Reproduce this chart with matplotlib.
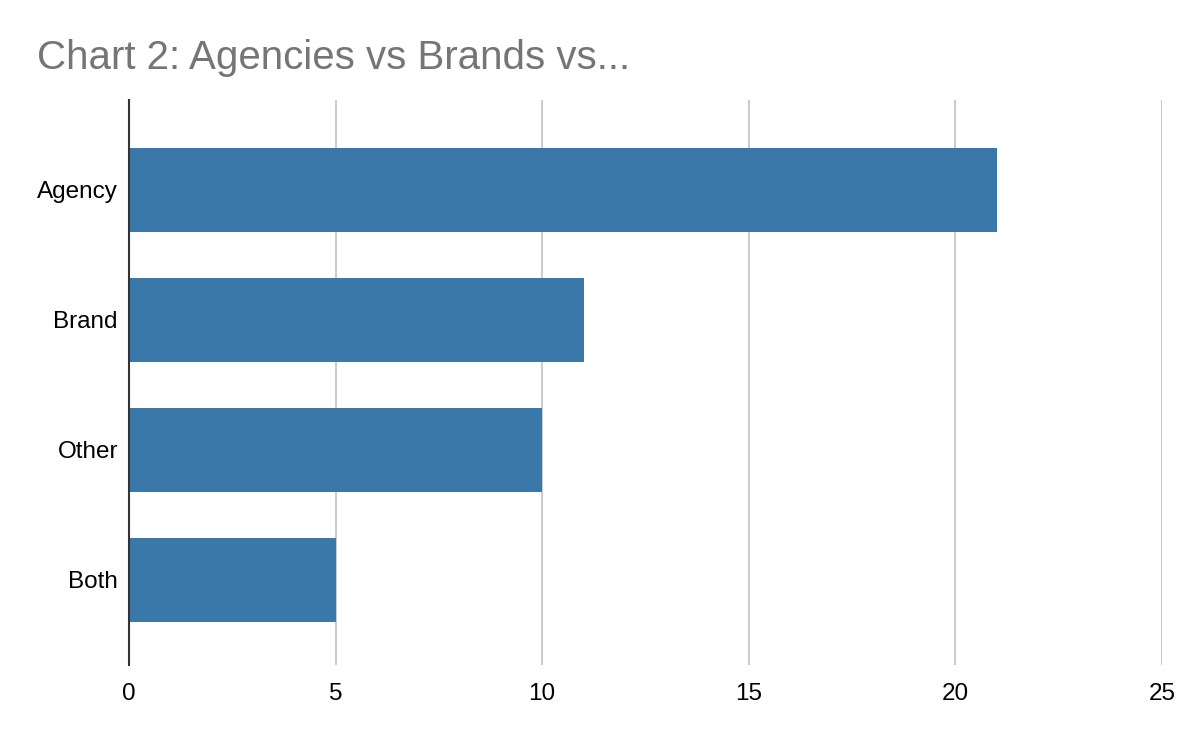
import matplotlib.pyplot as plt

categories = ["Agency", "Brand", "Other", "Both"]
values = [21, 11, 10, 5]
xticks = [0, 5, 10, 15, 20, 25]

plt.rcParams['font.family'] = ['Liberation Sans', 'DejaVu Sans']

fig = plt.figure(figsize=(12, 7.42), dpi=100)
ax = fig.add_axes([0.1075, 0.1038, 0.8608, 0.7614])

pos = list(range(len(categories)))
ax.barh(pos, values, height=0.646, color="#3b78aa", zorder=3)

ax.set_xlim(0, 25)
ax.set_ylim(3.654, -0.692)
ax.set_xticks(xticks)
ax.set_xticklabels([str(v) for v in xticks])
ax.set_yticks(pos)
ax.set_yticklabels(categories)
ax.tick_params(axis="both", length=0, labelsize=17.5, colors="#000000")
ax.tick_params(axis="x", pad=13)
ax.tick_params(axis="y", pad=8)

ax.grid(axis="x", color="#cccccc", linewidth=1.5, zorder=0)
for s in ["top", "right", "bottom"]:
    ax.spines[s].set_visible(False)
ax.spines["left"].set_color("#333333")
ax.spines["left"].set_linewidth(1.5)
ax.spines["left"].set_zorder(4)

fig.text(0.031, 0.922, "Chart 2: Agencies vs Brands vs...", fontsize=29,
         color="#757575", va="center", ha="left")

fig.savefig("out.png", dpi=100, facecolor="white")
